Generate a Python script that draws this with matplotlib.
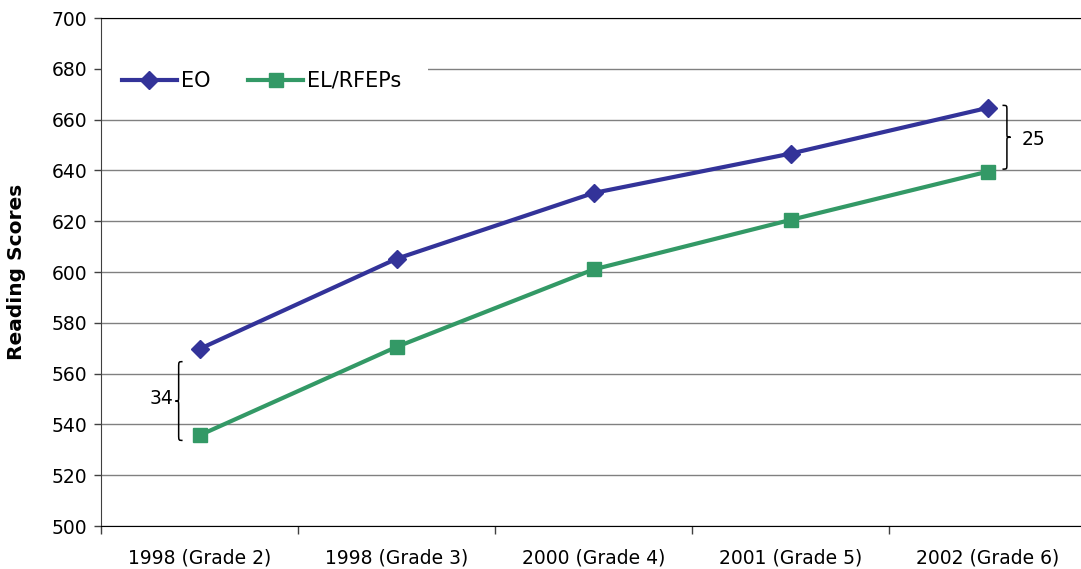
"""Reading scores of EO vs EL/RFEP students by year and grade.
"""
import matplotlib.pyplot as plt
from matplotlib.patches import Rectangle
from matplotlib.path import Path
from matplotlib.patches import PathPatch
import numpy as np

categories = ['1998 (Grade 2)', '1998 (Grade 3)', '2000 (Grade 4)',
              '2001 (Grade 5)', '2002 (Grade 6)']
eo_scores = [569.7, 605.2, 631.1, 646.6, 664.6]
el_scores = [535.7, 570.5, 601.0, 620.5, 639.5]
series_names = ['EO', 'EL/RFEPs']

EO_COLOR = '#333399'
EL_COLOR = '#339966'


def brace(ax, x, y0, y1, width, direction):
    # curly brace from y0 to y1, tip pointing to `direction` (-1 left, +1 right)
    ym = (y0 + y1) / 2.0
    w = width * direction
    xv = x + w * 0.55
    verts = [
        (x, y0),
        (xv, y0), (xv, y0), (xv, y0 + (ym - y0) * 0.15),
        (xv, ym - (ym - y0) * 0.12),
        (xv, ym), (xv, ym), (x + w, ym),
        (xv, ym), (xv, ym), (xv, ym + (y1 - ym) * 0.12),
        (xv, y1 - (y1 - ym) * 0.15),
        (xv, y1), (xv, y1), (x, y1),
    ]
    codes = [Path.MOVETO,
             Path.CURVE4, Path.CURVE4, Path.CURVE4,
             Path.LINETO,
             Path.CURVE4, Path.CURVE4, Path.CURVE4,
             Path.CURVE4, Path.CURVE4, Path.CURVE4,
             Path.LINETO,
             Path.CURVE4, Path.CURVE4, Path.CURVE4]
    ax.add_patch(PathPatch(Path(verts, codes), facecolor='none',
                           edgecolor='black', lw=1.1, zorder=4))


plt.rcParams['font.family'] = ['DejaVu Sans']

fig = plt.figure(figsize=(10.81, 5.69), dpi=100)
ax = fig.add_axes([101 / 1081, 43 / 569, 985 / 1081, 508 / 569])

x = np.arange(len(categories))
ax.plot(x, eo_scores, color=EO_COLOR, lw=3, marker='D', markersize=9.5,
        label=series_names[0], zorder=5, clip_on=False)
ax.plot(x, el_scores, color=EL_COLOR, lw=3, marker='s', markersize=10,
        label=series_names[1], zorder=5, clip_on=False)

ax.set_xlim(-0.5, len(categories) - 0.5)
ax.set_ylim(500, 700)
ax.set_yticks(np.arange(500, 701, 20))
ax.yaxis.grid(True, color='#808080', lw=1)
ax.set_axisbelow(True)

ax.set_xticks(x)
ax.set_xticklabels(categories, fontsize=13.5)
ax.set_xticks(np.arange(-0.5, len(categories), 1), minor=True)
ax.tick_params(axis='x', which='major', length=0, pad=16.5)
ax.tick_params(axis='x', which='minor', length=6, width=1, color='#404040')
ax.tick_params(axis='y', labelsize=13.5, length=5, width=1, color='#404040', pad=5)

ax.spines['right'].set_visible(False)
ax.spines['left'].set_color('#404040')
ax.spines['bottom'].set_color('black')
ax.spines['top'].set_color('black')

ax.set_ylabel('Reading Scores', fontsize=14.5, fontweight='bold')
ax.yaxis.set_label_coords(-0.076, 0.5)

# white patch behind the legend hides the 680 gridline
ax.add_patch(Rectangle((0.001, 0.805), 0.331, 0.17, transform=ax.transAxes,
                       facecolor='white', edgecolor='none', zorder=2))
ax.legend(loc='center left', bbox_to_anchor=(0.021, 0.876), ncol=2,
          frameon=False, fontsize=15, handlelength=2.65, handletextpad=0.2,
          columnspacing=1.8, borderpad=0, borderaxespad=0)

# gap braces
gap_first = eo_scores[0] - el_scores[0]
gap_last = eo_scores[-1] - el_scores[-1]
brace(ax, x[0] - 0.086, el_scores[0] - 2, eo_scores[0] - 5, 0.036, -1)
ax.text(x[0] - 0.13, (el_scores[0] + eo_scores[0]) / 2 - 2.5, '%d' % round(gap_first),
        fontsize=13.5, ha='right', va='center')
brace(ax, x[-1] + 0.076, el_scores[-1] + 1, eo_scores[-1] + 1, 0.041, 1)
ax.text(x[-1] + 0.172, (el_scores[-1] + eo_scores[-1]) / 2, '%d' % round(gap_last),
        fontsize=13.5, ha='left', va='center')

fig.savefig('out.png', dpi=100)
